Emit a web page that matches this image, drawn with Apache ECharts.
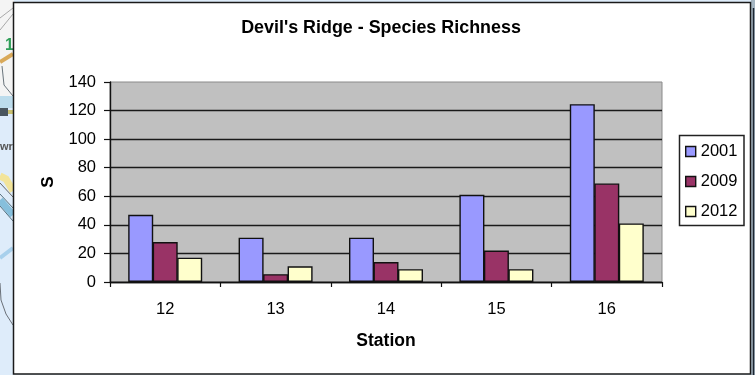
<!DOCTYPE html>
<html>
<head>
<meta charset="utf-8">
<style>html,body{margin:0;padding:0;background:#fff}#c{width:755px;height:375px}</style>
<script src="https://cdn.jsdelivr.net/npm/echarts@6/dist/echarts.min.js"></script>
</head>
<body>
<div id="c"></div>
<script>
const chartTitle = "Devil's Ridge - Species Richness";
const stations = ['12', '13', '14', '15', '16'];
const years = ['2001', '2009', '2012'];
const s2001 = [47, 31, 31, 61, 124.5];
const s2009 = [28, 5.5, 14, 22, 69];
const s2012 = [17, 11, 9, 9, 41];
const yTicks = { min: 0, max: 140, interval: 20 };
const fills = ['#9999ff', '#993366', '#ffffcc'];
const ink = '#111';
const face = 'Liberation Sans, Arial, sans-serif';

// Map fragments showing around the chart's frame.
const line = (points, stroke, lineWidth) => ({
  type: 'polyline', z: -5, shape: { points },
  style: { fill: 'none', stroke, lineWidth }
});
const mapBackdrop = [
  { type: 'rect', z: -6, shape: { x: 0, y: 0, width: 14, height: 105 }, style: { fill: '#f4f4f4' } },
  line([[0, 18], [13, 8]], '#a8a8a8', 1),
  line([[0, 30], [13, 14]], '#a8a8a8', 1),
  line([[0, 62], [13, 54]], '#d9a95a', 4),
  { type: 'text', z: -5, style: { x: 5, y: 38, text: '1', fontFamily: face, fontWeight: 'bold', fontSize: 16, fill: '#2f9e58' } },
  line([[2, 66], [4, 85], [13, 96]], '#6a747c', 1),
  { type: 'rect', z: -5, shape: { x: 0, y: 96, width: 14, height: 12 }, style: { fill: '#bcdcec' } },
  { type: 'rect', z: -5, shape: { x: 0, y: 108, width: 8, height: 8 }, style: { fill: '#4a565e' } },
  { type: 'rect', z: -5, shape: { x: 8, y: 110, width: 6, height: 4 }, style: { fill: '#c9c070' } },
  { type: 'text', z: -5, style: { x: 0, y: 141, text: 'wr', fontFamily: face, fontWeight: 'bold', fontSize: 11, fill: '#555' } },
  line([[0, 176], [6, 179], [13, 191]], '#f2e49a', 7),
  line([[0, 183], [13, 197]], '#666', 1),
  line([[0, 200], [13, 215]], '#86bfdc', 7),
  line([[0, 194], [13, 208]], '#55707e', 1),
  line([[0, 206], [13, 221]], '#55707e', 1),
  line([[0, 258], [13, 248]], '#a8d0ec', 4),
  line([[0, 283], [1, 300], [6, 314], [13, 325]], '#6a7078', 1),
  { type: 'rect', z: -6, shape: { x: 751, y: 0, width: 4, height: 375 }, style: { fill: '#a6b6c2' } },
  line([[753.5, 8], [753.5, 375]], '#1c2530', 1.5)
];

const chart = echarts.init(document.getElementById('c'), null, { renderer: 'canvas' });
const mkSeries = (name, data, i) => ({
  name, type: 'bar', data, barWidth: 25, barGap: '-2%',
  itemStyle: { color: fills[i], borderColor: ink, borderWidth: 1.4 },
  animation: false
});
chart.setOption({
  animation: false,
  backgroundColor: '#deecfa',
  textStyle: { fontFamily: face },
  title: {
    text: chartTitle, left: 376, top: 14, textAlign: 'center',
    textStyle: { fontFamily: face, fontSize: 17.9, fontWeight: 'bold', color: '#000' }
  },
  graphic: mapBackdrop.concat([
    { type: 'rect', z: -1, shape: { x: 13.5, y: 2.5, width: 737, height: 371.5 },
      style: { fill: '#fff', stroke: '#1a1a1a', lineWidth: 1.5 } },
    { type: 'rect', z: 0, shape: { x: 679.5, y: 135.5, width: 64.5, height: 90 },
      style: { fill: '#fff', stroke: '#222', lineWidth: 1.5 } }
  ]),
  grid: { left: 110, right: 93, top: 82, bottom: 93, backgroundColor: '#c0c0c0', show: true, borderWidth: 1, borderColor: '#8a8a8a' },
  legend: {
    orient: 'vertical', left: 680, top: 138, itemWidth: 10, itemHeight: 10, itemGap: 13, icon: 'rect',
    data: years, textStyle: { fontFamily: face, fontSize: 16.5, color: '#000' },
    itemStyle: { borderColor: ink, borderWidth: 1.4 }
  },
  xAxis: {
    type: 'category', data: stations, name: 'Station', nameLocation: 'middle', nameGap: 50,
    nameTextStyle: { fontFamily: face, fontSize: 17.5, fontWeight: 'bold', color: '#000' },
    axisLine: { lineStyle: { color: ink, width: 1.4 } },
    axisTick: { show: true, length: 5, lineStyle: { color: ink, width: 1.2 } },
    axisLabel: { fontFamily: face, fontSize: 16.5, color: '#000', margin: 19 }
  },
  yAxis: {
    type: 'value', min: yTicks.min, max: yTicks.max, interval: yTicks.interval,
    name: 'S', nameLocation: 'middle', nameGap: 53, nameRotate: 90,
    nameTextStyle: { fontFamily: face, fontSize: 17, fontWeight: 'bold', color: '#000' },
    axisLine: { show: true, lineStyle: { color: ink, width: 1.4 } },
    axisTick: { show: true, length: 6, lineStyle: { color: ink, width: 1.2 } },
    splitLine: { show: true, showMaxLine: false, lineStyle: { color: '#1a1a1a', width: 1.3 } },
    axisLabel: { fontFamily: face, fontSize: 16.5, color: '#000', margin: 14 }
  },
  series: [mkSeries(years[0], s2001, 0), mkSeries(years[1], s2009, 1), mkSeries(years[2], s2012, 2)]
});
</script>
</body>
</html>
